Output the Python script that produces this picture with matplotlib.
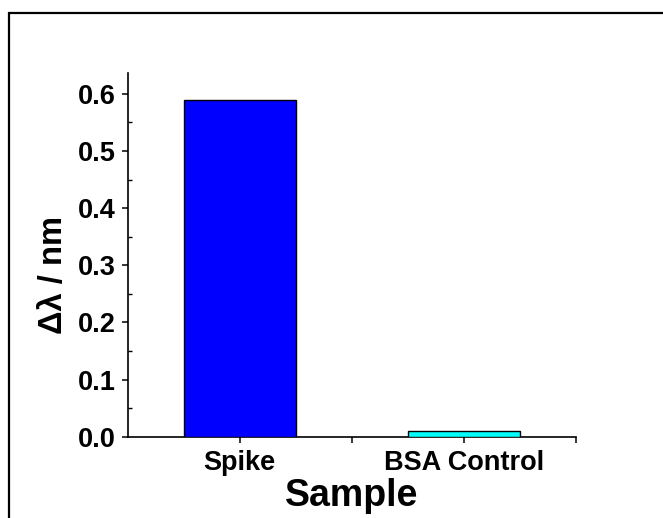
import matplotlib
matplotlib.use("Agg")
import matplotlib.pyplot as plt
from matplotlib.patches import Rectangle
from matplotlib.ticker import MultipleLocator

categories = ["Spike", "BSA Control"]
shift = [0.59, 0.01]
colors = ["#0000FF", "#00FFFF"]

plt.rcParams["font.family"] = ["Liberation Sans", "DejaVu Sans"]
plt.rcParams["font.weight"] = "bold"

fig = plt.figure(figsize=(6.63, 5.18), dpi=100)
ax = fig.add_axes([0.1926, 0.157, 0.8688 - 0.1926, 0.8597 - 0.157])

x = list(range(len(categories)))
ax.bar(x, shift, width=0.5, color=colors, edgecolor="black", linewidth=1.0, zorder=3)

ax.set_xlim(-0.5, 1.5)
ax.set_ylim(0, 0.637)
ax.set_xticks([0, 0.5, 1, 1.5])
ax.set_xticklabels([categories[0], "", categories[1], ""])
ax.yaxis.set_major_locator(MultipleLocator(0.1))
ax.yaxis.set_minor_locator(MultipleLocator(0.05))
ax.yaxis.set_major_formatter(lambda v, p: f"{v:.1f}")

for s in ["top", "right"]:
    ax.spines[s].set_visible(False)
for s in ["left", "bottom"]:
    ax.spines[s].set_linewidth(1.2)

ax.tick_params(axis="both", which="major", direction="out", length=4.5, width=1.1,
               labelsize=19.5, pad=4)
ax.tick_params(axis="x", which="major", pad=5)
ax.tick_params(axis="y", which="minor", direction="in", length=3, width=1.0)
for lab in ax.get_xticklabels() + ax.get_yticklabels():
    lab.set_fontweight("bold")

ax.set_xlabel("Sample", fontsize=27, fontweight="bold", labelpad=1.5)
ax.set_ylabel("Δλ / nm", fontsize=23.5, fontweight="bold")
ax.yaxis.label.set_va("center")
ax.yaxis.set_label_coords(-0.165, 0.445)

# outer frame
fig.patches.append(Rectangle((8.5 / 663, -0.1), 1.2, 1 - 12.5 / 518 + 0.1,
                             transform=fig.transFigure, fill=False,
                             edgecolor="black", linewidth=1.6))

fig.savefig("out.png", dpi=100)
